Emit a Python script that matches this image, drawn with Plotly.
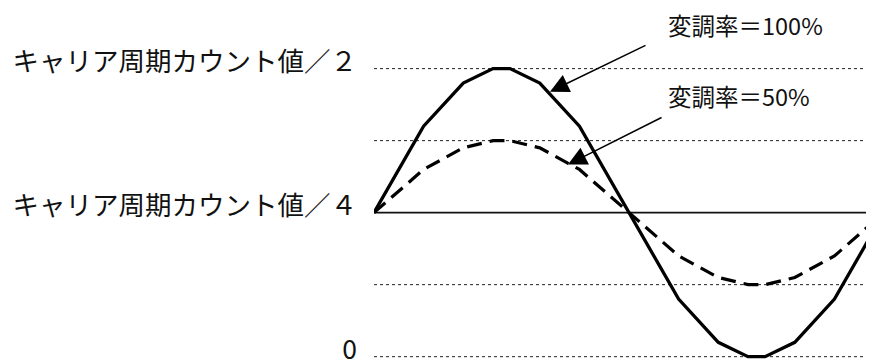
import plotly.graph_objects as go

# phase of the carrier wave (degrees) and compare values
# (unit: carrier period count / 2 = 1.0)
phase = [0, 35, 63, 84, 96, 117, 145, 180, 215, 243, 264, 276, 297, 325, 360]
duty_100 = [0.5, 0.80, 0.95, 1.0, 1.0, 0.95, 0.80, 0.5, 0.20, 0.05, 0.0, 0.0, 0.05, 0.20, 0.5]
duty_50 = [0.5, 0.65, 0.725, 0.75, 0.75, 0.725, 0.65, 0.5, 0.35, 0.275, 0.25, 0.25, 0.275, 0.35, 0.5]

tick_vals = [0, 0.5, 1.0]
tick_text = ["0", "キャリア周期カウント値／４", "キャリア周期カウント値／２"]
dotted_levels = [0, 0.25, 0.75, 1.0]
center_level = 0.5

labels = ["変調率＝100%", "変調率＝50%"]
label_pos = [(206.8, 1.152), (206.8, 0.904)]
arrow_tip = [(124.2, 0.920), (136.9, 0.667)]
arrow_tail = [(192.7, 1.083), (204.0, 0.833)]

FONT = "Noto Sans CJK JP"

fig = go.Figure()

for lv in dotted_levels:
    fig.add_hline(y=lv, line=dict(color="#222", width=1, dash="dot"), layer="below")
fig.add_hline(y=center_level, line=dict(color="#111", width=1.6), layer="below")

fig.add_trace(go.Scatter(x=phase, y=duty_100, mode="lines",
                         line=dict(color="black", width=3.3)))
fig.add_trace(go.Scatter(x=phase, y=duty_50, mode="lines",
                         line=dict(color="black", width=3.2, dash="15px,8px")))

for txt, (tx, ty) in zip(labels, label_pos):
    fig.add_annotation(x=tx, y=ty, text=txt, showarrow=False, xanchor="left",
                       yanchor="middle", borderpad=0,
                       font=dict(size=23.5, color="#111", family=FONT))

for (hx, hy), (sx, sy) in zip(arrow_tip, arrow_tail):
    fig.add_annotation(x=hx, y=hy, ax=sx, ay=sy, axref="x", ayref="y", text="",
                       showarrow=True, arrowhead=2, arrowsize=2.5, arrowwidth=1.5,
                       arrowcolor="black")

fig.update_xaxes(range=[0, 352.9], visible=False, showgrid=False, zeroline=False)
fig.update_yaxes(range=[-0.015, 1.2], tickvals=tick_vals, ticktext=tick_text,
                 showgrid=False, zeroline=False, showline=False, ticks="",
                 ticklabelstandoff=16, ticklabelshift=-7, automargin=False,
                 ticklabeloverflow="allow",
                 tickfont=dict(size=26.5, color="#111", family=FONT))

# the page body adds an 8px offset, so the figure is 8px smaller than the window
fig.update_layout(width=866, height=355, showlegend=False,
                  margin=dict(l=366, r=0, t=3, b=2),
                  plot_bgcolor="white", paper_bgcolor="white",
                  font=dict(family=FONT))

fig.write_html("out.html")
